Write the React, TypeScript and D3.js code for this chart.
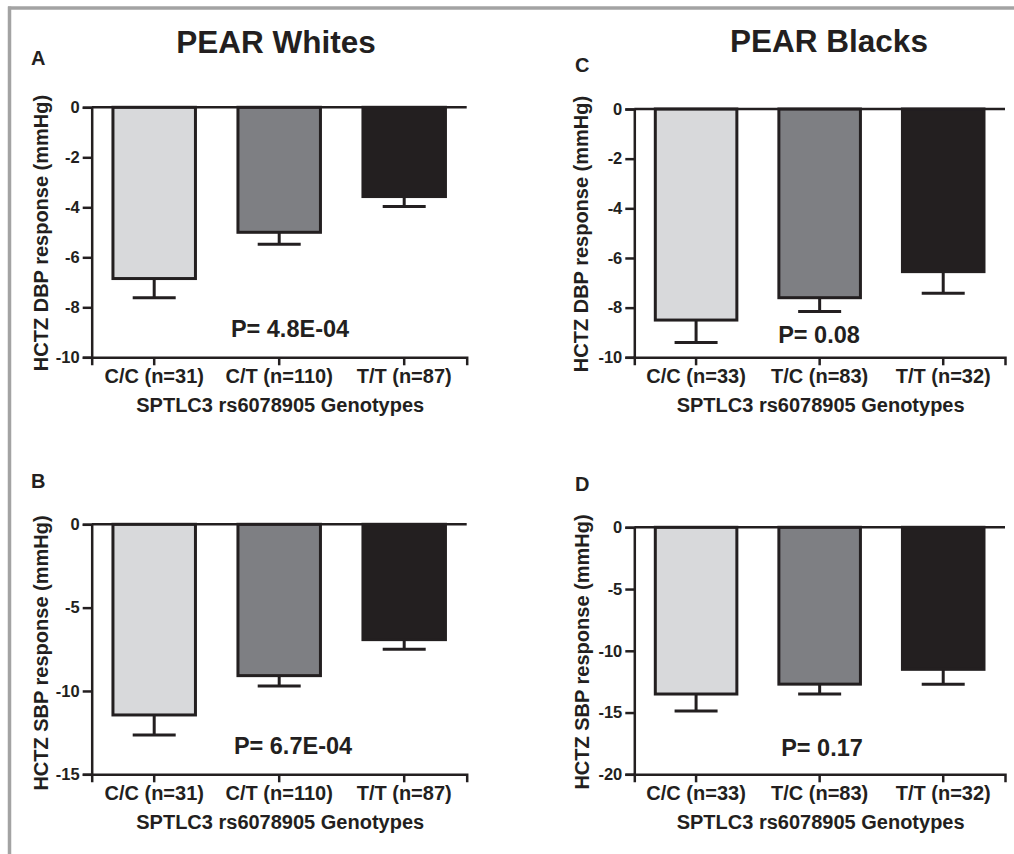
import React, { useEffect, useRef } from "react";
import * as d3 from "d3";

// ---- data ----
const whitesCats = ["C/C (n=31)", "C/T (n=110)", "T/T (n=87)"];
const blacksCats = ["C/C (n=33)", "T/C (n=83)", "T/T (n=32)"];

const dbpWhitesMean = [-6.85, -5.0, -3.57];
const dbpWhitesSem = [0.77, 0.48, 0.4];
const sbpWhitesMean = [-11.44, -9.08, -6.92];
const sbpWhitesSem = [1.2, 0.62, 0.58];

const dbpBlacksMean = [-8.5, -7.6, -6.55];
const dbpBlacksSem = [0.9, 0.56, 0.87];
const sbpBlacksMean = [-13.5, -12.7, -11.5];
const sbpBlacksSem = [1.37, 0.8, 1.2];

const dbpTicks = [0, -2, -4, -6, -8, -10];
const sbpWhitesTicks = [0, -5, -10, -15];
const sbpBlacksTicks = [0, -5, -10, -15, -20];

const pValues = ["P= 4.8E-04", "P= 6.7E-04", "P= 0.08", "P= 0.17"];
const panelLetters = ["A", "B", "C", "D"];
const groupTitles = ["PEAR Whites", "PEAR Blacks"];
const xTitle = "SPTLC3 rs6078905 Genotypes";
const yTitles = ["HCTZ DBP response (mmHg)", "HCTZ SBP response (mmHg)"];

const barColors = ["#d8d9db", "#7e7f83", "#231f20"];
const INK = "#231f20";
const FONT = "'Liberation Sans', Arial, Helvetica, sans-serif";

export default function App() {
  const ref = useRef<SVGSVGElement | null>(null);

  useEffect(() => {
    const svg = d3.select(ref.current);
    svg.selectAll("*").remove();

    // frame
    svg.append("line").attr("x1", 8).attr("x2", 1014).attr("y1", 8).attr("y2", 8)
      .attr("stroke", "#a3a3a3").attr("stroke-width", 3.5);
    svg.append("line").attr("x1", 9.5).attr("x2", 9.5).attr("y1", 6.5).attr("y2", 854)
      .attr("stroke", "#a3a3a3").attr("stroke-width", 3.5);

    // group titles
    const titlePos = [
      { x: 276, y: 53 },
      { x: 829, y: 52 },
    ];
    groupTitles.forEach((t, i) => {
      svg.append("text").attr("x", titlePos[i].x).attr("y", titlePos[i].y)
        .attr("text-anchor", "middle").attr("font-family", FONT).attr("font-weight", "bold")
        .attr("font-size", 31.5).attr("fill", INK).text(t);
    });

    const panels = [
      { cats: whitesCats, mean: dbpWhitesMean, sem: dbpWhitesSem, ticks: dbpTicks, min: -10,
        x0: 91.7, x1: 466.7, yTop: 107.3, yBot: 357.3, letter: panelLetters[0], lx: 31, ly: 65,
        p: pValues[0], px: 290, py: 337, yt: yTitles[0], ytx: 48, yty: 233 },
      { cats: whitesCats, mean: sbpWhitesMean, sem: sbpWhitesSem, ticks: sbpWhitesTicks, min: -15,
        x0: 91.7, x1: 466.7, yTop: 524.3, yBot: 774.3, letter: panelLetters[1], lx: 31, ly: 488,
        p: pValues[1], px: 293, py: 754, yt: yTitles[1], ytx: 48, yty: 653 },
      { cats: blacksCats, mean: dbpBlacksMean, sem: dbpBlacksSem, ticks: dbpTicks, min: -10,
        x0: 634.3, x1: 1005, yTop: 109, yBot: 357.3, letter: panelLetters[2], lx: 575, ly: 72,
        p: pValues[2], px: 819, py: 343, yt: yTitles[0], ytx: 588, yty: 234 },
      { cats: blacksCats, mean: sbpBlacksMean, sem: sbpBlacksSem, ticks: sbpBlacksTicks, min: -20,
        x0: 634.3, x1: 1005, yTop: 527.3, yBot: 774.3, letter: panelLetters[3], lx: 575, ly: 491,
        p: pValues[3], px: 822, py: 756, yt: yTitles[1], ytx: 589, yty: 652 },
    ];

    panels.forEach((pn) => {
      const g = svg.append("g");
      const x = d3.scaleBand<string>().domain(pn.cats).range([pn.x0, pn.x1])
        .paddingInner(0.34).paddingOuter(0.17);
      const y = d3.scaleLinear().domain([pn.min, 0]).range([pn.yBot, pn.yTop]);

      // bars
      pn.cats.forEach((c, i) => {
        const xc = (x(c) as number) + x.bandwidth() / 2;
        const m = pn.mean[i];
        const e = m - pn.sem[i];
        g.append("line").attr("x1", xc).attr("x2", xc).attr("y1", y(m)).attr("y2", y(e))
          .attr("stroke", INK).attr("stroke-width", 3);
        g.append("line").attr("x1", xc - 21.5).attr("x2", xc + 21.5).attr("y1", y(e)).attr("y2", y(e))
          .attr("stroke", INK).attr("stroke-width", 3);
        g.append("rect").attr("x", x(c) as number).attr("width", x.bandwidth())
          .attr("y", y(0)).attr("height", y(m) - y(0))
          .attr("fill", barColors[i]).attr("stroke", INK).attr("stroke-width", 3);
      });

      // zero line
      g.append("line").attr("x1", pn.x0).attr("x2", pn.x1).attr("y1", y(0)).attr("y2", y(0))
        .attr("stroke", INK).attr("stroke-width", 2.5);

      // y axis
      const ya = g.append("g").attr("transform", `translate(${pn.x0},0)`)
        .call(d3.axisLeft(y).tickValues(pn.ticks).tickSizeOuter(0).tickSize(9).tickPadding(3)
          .tickFormat((d) => d3.format("d")(d as number).replace("\u2212", "-")));
      ya.select(".domain").attr("stroke", INK).attr("stroke-width", 2.5);
      ya.selectAll(".tick line").attr("stroke", INK).attr("stroke-width", 2.5);
      ya.selectAll(".tick text").attr("font-family", FONT).attr("font-weight", "bold")
        .attr("font-size", 16.5).attr("fill", INK);

      // x axis
      const xa = g.append("g").attr("transform", `translate(0,${pn.yBot})`)
        .call(d3.axisBottom(x).tickSizeOuter(0).tickSize(8).tickPadding(4));
      xa.select(".domain").attr("stroke", INK).attr("stroke-width", 2.5);
      xa.selectAll(".tick line").attr("stroke", INK).attr("stroke-width", 2.5);
      xa.selectAll(".tick text").attr("font-family", FONT).attr("font-weight", "bold")
        .attr("font-size", 20).attr("fill", INK);

      // x title
      g.append("text").attr("x", (pn.x0 + pn.x1) / 2 + 1).attr("y", pn.yBot + 55)
        .attr("text-anchor", "middle").attr("font-family", FONT).attr("font-weight", "bold")
        .attr("font-size", 20).attr("fill", INK).text(xTitle);

      // y title
      g.append("text").attr("transform", `translate(${pn.ytx},${pn.yty}) rotate(-90)`)
        .attr("text-anchor", "middle").attr("font-family", FONT).attr("font-weight", "bold")
        .attr("font-size", 20).attr("fill", INK).text(pn.yt);

      // p-value
      g.append("text").attr("x", pn.px).attr("y", pn.py).attr("text-anchor", "middle")
        .attr("font-family", FONT).attr("font-weight", "bold").attr("font-size", 23.5)
        .attr("fill", INK).text(pn.p);

      // panel letter
      g.append("text").attr("x", pn.lx).attr("y", pn.ly).attr("font-family", FONT)
        .attr("font-weight", "bold").attr("font-size", 20).attr("fill", INK).text(pn.letter);
    });
  }, []);

  return (
    <svg
      ref={ref}
      width={1014}
      height={854}
      style={{ position: "absolute", left: 0, top: 0, background: "#ffffff" }}
    />
  );
}
